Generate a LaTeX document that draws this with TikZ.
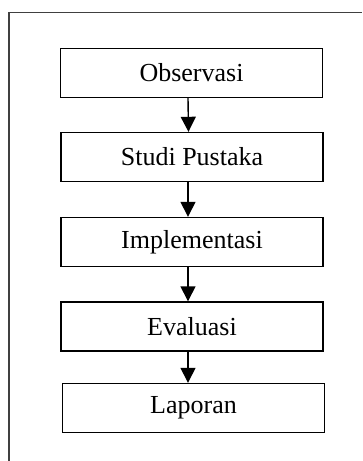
\documentclass[tikz,border=0pt]{standalone}
\usepackage{fontspec}
\setmainfont{Liberation Serif}
\usetikzlibrary{arrows.meta}
\tikzstyle{stageBox}=[shape = rectangle, draw, line width = 1.4pt, minimum width = 262pt, minimum height = 49pt, inner sep = 0pt, font = \fontsize{26}{30}\selectfont]
\tikzstyle{stageArrow}=[line width = 1.4pt, -{Triangle[width=15pt,length=15pt]}]

\begin{document}
\begin{tikzpicture}[x = 1pt, y = -1pt]
\useasboundingbox (0,0) rectangle (362,461);
\draw[line width = 1.5pt, black!75] (9,461) -- (9,12.5) -- (362,12.5);
\node[stageBox] (s1) at (191.5,73) {Observasi};
\node[stageBox] (s2) at (192,157) {Studi Pustaka};
\node[stageBox] (s3) at (192,242) {Implementasi};
\node[stageBox] (s4) at (192,326.5) {Evaluasi};
\node[stageBox] (s5) at (193.5,408) {Laporan};
\draw[stageArrow] ([xshift=-3.5pt]s1.south) -- ([xshift=-3.5pt]s2.north);
\draw[stageArrow] ([xshift=-4pt]s2.south) -- ([xshift=-4pt]s3.north);
\draw[stageArrow] ([xshift=-4pt]s3.south) -- ([xshift=-4pt]s4.north);
\draw[stageArrow] ([xshift=-4pt]s4.south) -- ([xshift=-5.5pt]s5.north);
\end{tikzpicture}
\end{document}
